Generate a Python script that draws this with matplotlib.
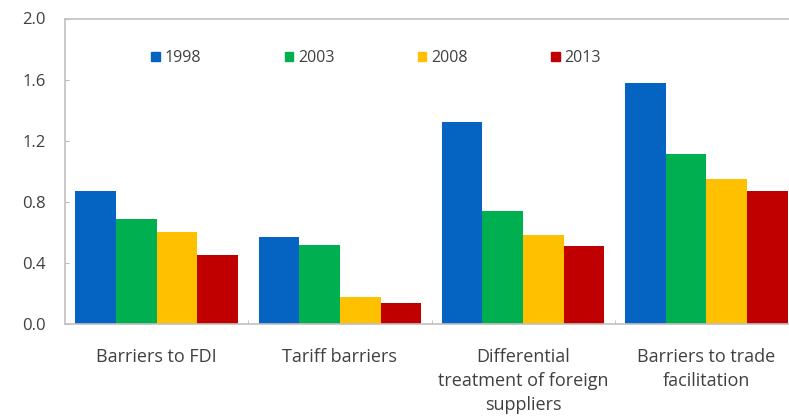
import numpy as np
import matplotlib.pyplot as plt
from matplotlib.patches import Patch

categories = ['Barriers to FDI', 'Tariff barriers',
              'Differential\ntreatment of foreign\nsuppliers',
              'Barriers to trade\nfacilitation']
years = ['1998', '2003', '2008', '2013']
v1998 = [0.87, 0.57, 1.32, 1.58]
v2003 = [0.69, 0.52, 0.74, 1.11]
v2008 = [0.60, 0.18, 0.58, 0.95]
v2013 = [0.45, 0.14, 0.51, 0.87]
colors = ['#0563C1', '#00B050', '#FFC000', '#C00000']

plt.rcParams['font.family'] = ['Open Sans', 'DejaVu Sans']

fig = plt.figure(figsize=(7.89, 4.16), dpi=100)
ax = fig.add_axes([65 / 789, 1 - 324 / 416, 733 / 789, 305.5 / 416])

x = np.arange(len(categories))
w = 0.222
for j, vals in enumerate([v1998, v2003, v2008, v2013]):
    ax.bar(x + (j - 1.5) * w, vals, width=w, color=colors[j], label=years[j])

ax.set_xlim(-0.5, 3.5)
ax.set_ylim(0, 2.0)
ax.set_yticks([0, 0.4, 0.8, 1.2, 1.6, 2.0])
ax.set_yticklabels(['0.0', '0.4', '0.8', '1.2', '1.6', '2.0'])
ax.set_xticks(x)
ax.set_xticklabels(categories, linespacing=1.45)
ax.set_xticks([0.5, 1.5, 2.5], minor=True)
ax.tick_params(axis='x', which='major', length=0, pad=17, labelsize=13, labelcolor='#404040')
ax.tick_params(axis='x', which='minor', direction='in', length=3, color='#bbbbbb')
ax.tick_params(axis='y', direction='in', length=3, color='#bbbbbb', pad=14,
               labelsize=12, labelcolor='#404040')
for s in ax.spines.values():
    s.set_color('#c0c0c0')
    s.set_linewidth(1.2)

handles = [Patch(color=c) for c in colors]
fig.legend(handles, years, loc='center left', bbox_to_anchor=(137 / 789, 1 - 58 / 416),
           ncol=4, frameon=False, fontsize=11.5, handlelength=0.55, handleheight=0.55,
           handletextpad=0.3, columnspacing=5.2, labelcolor='#404040')

fig.savefig('out.png', dpi=100)
